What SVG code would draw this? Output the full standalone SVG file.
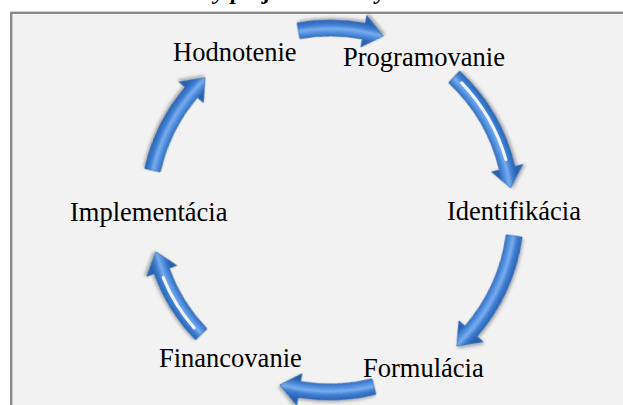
<svg xmlns="http://www.w3.org/2000/svg" xmlns:xlink="http://www.w3.org/1999/xlink" width="623" height="405" viewBox="0 0 623 405">
<style>
.lbl{font-family:"Liberation Serif","Times New Roman",serif;font-size:26.5px;fill:#000}
.title{font-family:"Liberation Serif","Times New Roman",serif;font-size:24px;font-weight:bold;font-style:italic;fill:#000}
.arr{stroke:#2d64ae;stroke-width:0.7;stroke-linejoin:round;filter:url(#sh)}
.hl{fill:none;stroke:#ffffff;stroke-width:3;stroke-linecap:round;opacity:0.9}
</style>
<defs>
<radialGradient id="g" gradientUnits="userSpaceOnUse" cx="0" cy="0" r="190">
<stop offset="0.905" stop-color="#2a5fab"/>
<stop offset="0.935" stop-color="#4f8fe0"/>
<stop offset="0.955" stop-color="#79adec"/>
<stop offset="0.975" stop-color="#3f7fd2"/>
<stop offset="1" stop-color="#2c64b2"/>
</radialGradient>
<radialGradient id="g3" xlink:href="#g" r="194"/>
<radialGradient id="g5" xlink:href="#g" r="187"/>
<filter id="sh" x="-20%" y="-20%" width="140%" height="140%">
<feDropShadow dx="1.5" dy="2" stdDeviation="1.5" flood-color="#000" flood-opacity="0.3"/>
</filter>
</defs>
<rect x="0" y="0" width="623" height="405" fill="#ffffff"/>
<text class="title" x="177" y="-1">Fázy projektového cyklu</text>
<rect x="11.2" y="12.8" width="640" height="420" fill="#f2f2f2" stroke="#878787" stroke-width="2.3"/>
<g id="connectors">
<g transform="translate(330,210) rotate(-100)">
<path class="arr" fill="url(#g)" d="M190,0 A190,190 0 0 1 177.73,67.16 L185.22,69.99 L162.16,82.63 L155.28,58.68 L162.77,61.50 A174,174 0 0 0 174,0 Z"/>
</g>
<g transform="translate(330,210) rotate(-47)">
<path class="arr" fill="url(#g)" d="M190,0 A190,190 0 0 1 158.07,105.42 L164.73,109.86 L139.42,116.99 L138.10,92.10 L144.76,96.54 A174,174 0 0 0 174,0 Z"/>
<path class="hl" d="M182.75,9.58 A183,183 0 0 1 156.86,94.25"/>
</g>
<g transform="translate(330,210) rotate(8)">
<path class="arr" fill="url(#g3)" d="M194,0 A194,194 0 0 1 163.25,104.81 L169.99,109.13 L144.55,117.05 L143.06,91.84 L149.79,96.16 A178,178 0 0 0 178,0 Z"/>
</g>
<g transform="translate(330,210) rotate(76)">
<path class="arr" fill="url(#g)" d="M190,0 A190,190 0 0 1 173.98,76.37 L181.30,79.59 L157.62,91.00 L152.00,66.72 L159.32,69.94 A174,174 0 0 0 174,0 Z"/>
</g>
<g transform="translate(330,210) rotate(136)">
<path class="arr" fill="url(#g5)" d="M187,0 A187,187 0 0 1 170.70,76.36 L178.00,79.62 L154.23,90.85 L148.79,66.56 L156.09,69.82 A171,171 0 0 0 171,0 Z"/>
<path class="hl" d="M179.75,9.42 A180,180 0 0 1 166.89,67.43"/>
</g>
<g transform="translate(330,210) rotate(192.6)">
<path class="arr" fill="url(#g)" d="M190,0 A190,190 0 0 1 168.22,88.32 L175.31,92.04 L150.89,101.77 L146.97,77.16 L154.06,80.88 A174,174 0 0 0 174,0 Z"/>
</g>
</g>
<g id="hodnotenie"><text class="lbl" x="173" y="61">Hodnotenie</text></g>
<g id="programovanie"><text class="lbl" x="343" y="66">Programovanie</text></g>
<g id="identifikacia"><text class="lbl" x="447" y="220">Identifikácia</text></g>
<g id="formulacia"><text class="lbl" x="363" y="377">Formulácia</text></g>
<g id="financovanie"><text class="lbl" x="159" y="367">Financovanie</text></g>
<g id="implementacia"><text class="lbl" x="70" y="221">Implementácia</text></g>
</svg>
